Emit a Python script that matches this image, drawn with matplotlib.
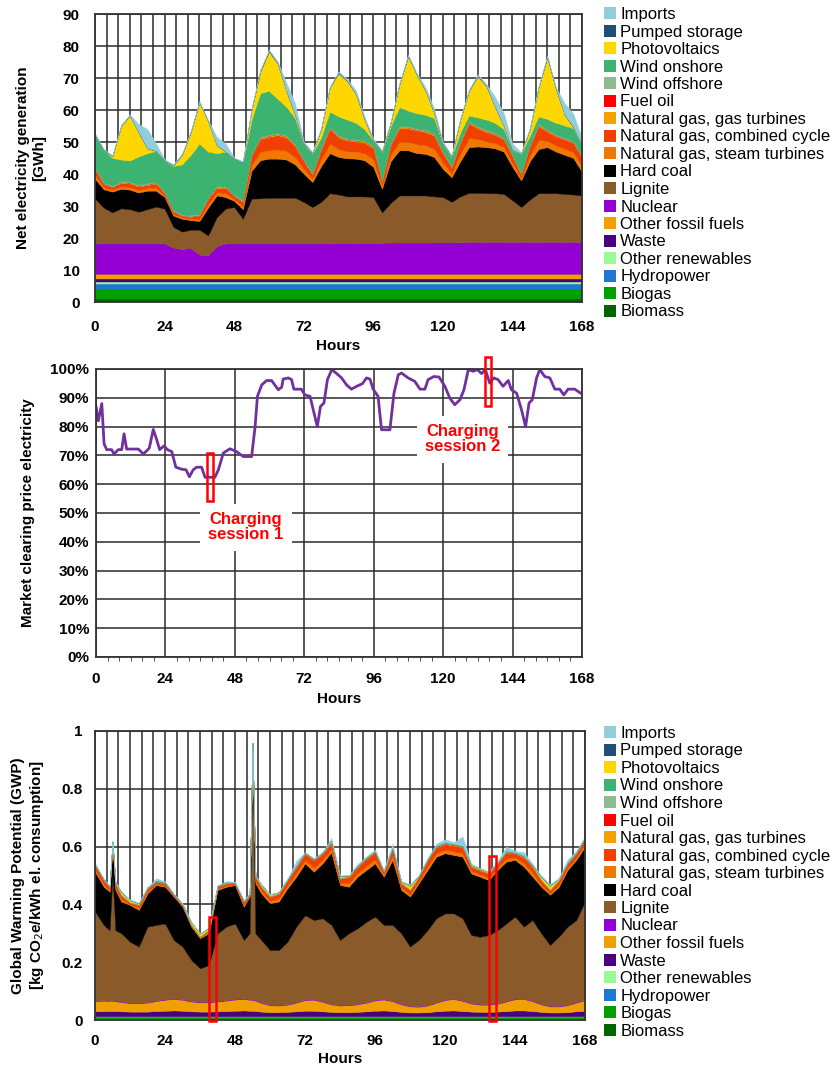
import numpy as np
import matplotlib.pyplot as plt
from matplotlib.patches import Patch, Rectangle
from matplotlib.ticker import MultipleLocator

plt.rcParams['font.family'] = ['Liberation Sans', 'DejaVu Sans']

# ---------------- generation mix [GWh], one value every 3 hours ----------------
hours_gen = np.arange(0, 169, 3)

biomass_gen = [0.8, 0.8, 0.8, 0.8, 0.8, 0.8, 0.8, 0.8, 0.8, 0.8, 0.8, 0.8, 0.8, 0.8, 0.8, 0.8, 0.8, 0.8, 0.8,
               0.8, 0.8, 0.8, 0.8, 0.8, 0.8, 0.8, 0.8, 0.8, 0.8, 0.8, 0.8, 0.8, 0.8, 0.8, 0.8, 0.8, 0.8, 0.8,
               0.8, 0.8, 0.8, 0.8, 0.8, 0.8, 0.8, 0.8, 0.8, 0.8, 0.8, 0.8, 0.8, 0.8, 0.8, 0.8, 0.8, 0.8, 0.8]
biogas_gen = [3.2, 3.2, 3.2, 3.2, 3.2, 3.2, 3.2, 3.2, 3.2, 3.2, 3.2, 3.2, 3.2, 3.2, 3.2, 3.2, 3.2, 3.2, 3.2,
              3.2, 3.2, 3.2, 3.2, 3.2, 3.2, 3.2, 3.2, 3.2, 3.2, 3.2, 3.2, 3.2, 3.2, 3.2, 3.2, 3.2, 3.2, 3.2,
              3.2, 3.2, 3.2, 3.2, 3.2, 3.2, 3.2, 3.2, 3.2, 3.2, 3.2, 3.2, 3.2, 3.2, 3.2, 3.2, 3.2, 3.2, 3.2]
hydro_gen = [1.6, 1.6, 1.6, 1.6, 1.6, 1.6, 1.6, 1.6, 1.6, 1.6, 1.6, 1.6, 1.6, 1.6, 1.6, 1.6, 1.6, 1.6, 1.6,
             1.6, 1.6, 1.6, 1.6, 1.6, 1.6, 1.6, 1.6, 1.6, 1.6, 1.6, 1.6, 1.6, 1.6, 1.6, 1.6, 1.6, 1.6, 1.6,
             1.6, 1.6, 1.6, 1.6, 1.6, 1.6, 1.6, 1.6, 1.6, 1.6, 1.6, 1.6, 1.6, 1.6, 1.6, 1.6, 1.6, 1.6, 1.6]
other_ren_gen = [0.5, 0.5, 0.5, 0.5, 0.5, 0.5, 0.5, 0.5, 0.5, 0.5, 0.5, 0.5, 0.5, 0.5, 0.5, 0.5, 0.5, 0.5, 0.5,
                 0.5, 0.5, 0.5, 0.5, 0.5, 0.5, 0.5, 0.5, 0.5, 0.5, 0.5, 0.5, 0.5, 0.5, 0.5, 0.5, 0.5, 0.5, 0.5,
                 0.5, 0.5, 0.5, 0.5, 0.5, 0.5, 0.5, 0.5, 0.5, 0.5, 0.5, 0.5, 0.5, 0.5, 0.5, 0.5, 0.5, 0.5, 0.5]
waste_gen = [1.0, 1.0, 1.0, 1.0, 1.0, 1.0, 1.0, 1.0, 1.0, 1.0, 1.0, 1.0, 1.0, 1.0, 1.0, 1.0, 1.0, 1.0, 1.0,
             1.0, 1.0, 1.0, 1.0, 1.0, 1.0, 1.0, 1.0, 1.0, 1.0, 1.0, 1.0, 1.0, 1.0, 1.0, 1.0, 1.0, 1.0, 1.0,
             1.0, 1.0, 1.0, 1.0, 1.0, 1.0, 1.0, 1.0, 1.0, 1.0, 1.0, 1.0, 1.0, 1.0, 1.0, 1.0, 1.0, 1.0, 1.0]
other_fossil_gen = [1.7, 1.7, 1.7, 1.7, 1.7, 1.7, 1.7, 1.7, 1.7, 1.7, 1.7, 1.7, 1.7, 1.7, 1.7, 1.7, 1.7, 1.7, 1.7,
                    1.7, 1.7, 1.7, 1.7, 1.7, 1.7, 1.7, 1.7, 1.7, 1.7, 1.7, 1.7, 1.7, 1.7, 1.7, 1.7, 1.7, 1.7, 1.7,
                    1.7, 1.7, 1.7, 1.7, 1.7, 1.7, 1.7, 1.7, 1.7, 1.7, 1.7, 1.7, 1.7, 1.7, 1.7, 1.7, 1.7, 1.7, 1.7]
nuclear_gen = [9.5, 9.5, 9.5, 9.5, 9.5, 9.5, 9.5, 9.5, 9.5, 8.2, 7.7, 8.2, 6.0, 5.8, 8.7, 9.5, 9.5, 9.5, 9.5,
               9.5, 9.5, 9.5, 9.5, 9.5, 9.5, 9.5, 9.5, 9.5, 9.7, 9.7, 9.7, 9.7, 9.7, 9.7, 9.8, 9.8, 9.8, 9.8,
               9.8, 9.8, 9.9, 9.9, 9.9, 10.0, 10.0, 10.0, 10.0, 10.0, 10.0, 10.0, 10.0, 10.0, 10.0, 10.0, 10.0, 10.0, 10.0]
lignite_gen = [14.0, 11.2, 9.7, 11.0, 10.7, 9.9, 10.7, 11.5, 10.9, 6.5, 5.5, 5.6, 7.8, 6.2, 9.0, 10.9, 11.4, 7.7, 14.0,
               14.1, 14.3, 14.3, 14.3, 14.3, 13.0, 11.4, 13.0, 15.7, 15.1, 14.5, 14.5, 14.5, 14.3, 9.5, 12.4, 14.7, 14.7, 14.7,
               14.7, 14.4, 14.1, 12.6, 14.3, 15.3, 15.3, 15.2, 15.2, 15.0, 13.0, 10.9, 13.2, 15.2, 15.2, 15.2, 15.0, 14.8, 14.5]
hard_coal_gen = [6.2, 5.7, 6.5, 6.1, 6.1, 6.0, 5.8, 5.0, 3.6, 3.5, 4.0, 3.0, 2.7, 8.7, 6.8, 3.6, 1.9, 3.0, 8.7,
                 11.9, 12.2, 12.2, 11.9, 10.4, 8.8, 7.8, 11.2, 12.5, 11.7, 11.9, 11.8, 11.3, 9.4, 7.4, 13.0, 14.1, 14.1, 13.2,
                 13.0, 12.3, 8.8, 7.7, 11.0, 14.3, 14.5, 14.4, 14.0, 13.2, 10.4, 8.3, 12.0, 13.8, 14.4, 13.0, 12.2, 11.4, 7.3]
gas_steam_gen = [1.2, 0.7, 0.6, 0.8, 0.8, 0.8, 0.8, 1.0, 0.5, 0.6, 0.4, 0.5, 0.7, 1.1, 1.0, 1.2, 0.6, 1.0, 1.9,
                 2.6, 2.7, 2.9, 2.8, 2.3, 1.6, 1.0, 2.1, 3.0, 2.5, 2.2, 2.2, 2.2, 2.4, 1.0, 2.1, 2.7, 2.7, 2.8,
                 2.7, 2.6, 2.0, 1.2, 2.3, 2.9, 2.3, 1.9, 1.7, 1.5, 1.3, 0.8, 1.9, 2.8, 2.0, 1.9, 1.9, 1.9, 1.8]
gas_cc_gen = [1.65, 0.95, 0.75, 1.05, 1.15, 1.05, 0.95, 1.25, 0.65, 0.75, 0.45, 0.55, 1.05, 1.65, 1.35, 1.65, 0.85, 1.25, 2.85,
              4.05, 4.15, 4.45, 4.15, 3.35, 2.25, 1.25, 3.05, 4.65, 3.65, 3.35, 3.15, 3.35, 3.55, 1.35, 3.05, 4.15, 4.15, 4.35,
              4.15, 4.05, 2.85, 1.75, 3.35, 4.55, 3.35, 2.85, 2.55, 2.25, 1.95, 0.95, 2.85, 4.35, 2.85, 2.85, 2.85, 2.85, 2.65]
gas_gt_gen = [0.2, 0.1, 0.1, 0.2, 0.2, 0.2, 0.2, 0.2, 0.1, 0.1, 0.1, 0.1, 0.1, 0.2, 0.2, 0.2, 0.1, 0.2, 0.2,
              0.3, 0.3, 0.3, 0.3, 0.3, 0.2, 0.2, 0.3, 0.3, 0.3, 0.3, 0.3, 0.3, 0.3, 0.2, 0.3, 0.3, 0.3, 0.3,
              0.3, 0.3, 0.3, 0.2, 0.3, 0.3, 0.3, 0.3, 0.2, 0.2, 0.2, 0.2, 0.2, 0.3, 0.3, 0.2, 0.2, 0.2, 0.2]
fuel_oil_gen = [0.05, 0.05, 0.05, 0.05, 0.05, 0.05, 0.05, 0.05, 0.05, 0.05, 0.05, 0.05, 0.05, 0.05, 0.05, 0.05, 0.05, 0.05, 0.05,
                0.05, 0.05, 0.05, 0.05, 0.05, 0.05, 0.05, 0.05, 0.05, 0.05, 0.05, 0.05, 0.05, 0.05, 0.05, 0.05, 0.05, 0.05, 0.05,
                0.05, 0.05, 0.05, 0.05, 0.05, 0.05, 0.05, 0.05, 0.05, 0.05, 0.05, 0.05, 0.05, 0.05, 0.05, 0.05, 0.05, 0.05, 0.05]
wind_off_gen = [0.3, 0.3, 0.3, 0.3, 0.3, 0.3, 0.3, 0.3, 0.3, 0.3, 0.3, 0.3, 0.3, 0.3, 0.3, 0.3, 0.3, 0.3, 0.3,
                0.3, 0.3, 0.3, 0.3, 0.3, 0.3, 0.3, 0.3, 0.3, 0.3, 0.3, 0.3, 0.3, 0.3, 0.3, 0.3, 0.3, 0.3, 0.3,
                0.3, 0.3, 0.3, 0.3, 0.3, 0.3, 0.3, 0.3, 0.3, 0.3, 0.3, 0.3, 0.3, 0.3, 0.3, 0.3, 0.3, 0.3, 0.3]
wind_on_gen = [10.4, 10.2, 8.7, 6.7, 6.6, 8.9, 9.4, 9.6, 9.8, 13.7, 15.7, 18.9, 22.0, 14.2, 10.3, 10.8, 11.3, 11.9, 10.7,
               13.7, 13.7, 10.7, 8.9, 8.2, 4.9, 6.0, 3.2, 4.7, 5.9, 5.9, 5.2, 3.5, 1.7, 8.5, 5.2, 6.0, 4.9, 4.7,
               4.7, 4.9, 2.3, 2.8, 2.7, 1.8, 2.8, 3.2, 3.2, 2.7, 1.4, 6.0, 2.7, 2.4, 3.3, 3.7, 3.9, 4.0, 3.3]
pv_gen = [0.0, 0.0, 0.5, 10.5, 14.1, 7.5, 1.5, 0.0, 0.0, 0.2, 3.0, 7.0, 12.9, 9.5, 2.5, 0.0, 0.0, 0.0, 3.0,
          6.7, 12.3, 11.0, 5.0, 1.0, 0.2, 0.2, 2.5, 7.5, 13.5, 12.0, 9.0, 3.0, 0.1, 0.2, 1.0, 7.1, 16.9, 12.0,
          7.5, 1.5, 0.2, 0.2, 4.0, 7.7, 12.8, 10.5, 5.0, 1.0, 0.1, 0.1, 2.0, 9.0, 19.2, 10.5, 3.3, 0.3, 0.1]
pumped_gen = [0.1, 0.1, 0.1, 0.1, 0.1, 0.1, 0.1, 0.1, 0.1, 0.1, 0.1, 0.1, 0.1, 0.1, 0.1, 0.1, 0.1, 0.1, 0.1,
              0.3, 0.3, 0.2, 0.1, 0.1, 0.1, 0.1, 0.1, 0.1, 0.3, 0.2, 0.1, 0.1, 0.1, 0.1, 0.1, 0.1, 0.3, 0.1,
              0.1, 0.1, 0.1, 0.1, 0.1, 0.1, 0.3, 0.1, 0.1, 0.1, 0.1, 0.1, 0.1, 0.1, 0.3, 0.1, 0.1, 0.1, 0.1]
imports_gen = [0.2, 0.2, 0.3, 0.3, 0.3, 2.5, 6.0, 2.3, 0.3, 0.3, 0.3, 0.3, 0.3, 0.3, 2.5, 2.5, 0.2, 0.2, 0.3,
               0.3, 0.3, 0.5, 2.5, 3.5, 0.4, 0.3, 0.3, 0.3, 0.3, 0.5, 1.0, 0.8, 0.4, 0.3, 0.3, 0.3, 0.3, 0.5,
               1.0, 1.3, 0.4, 0.3, 0.3, 0.3, 0.4, 0.5, 3.0, 4.0, 1.9, 0.2, 0.3, 0.3, 0.3, 0.5, 3.5, 4.2, 2.0]

# ---------------- market clearing price (relative, %) ----------------
hours_price = [0, 0.8, 2, 2.8, 3.7, 5.4, 6.2, 7.7, 8.9, 9.7, 10.6, 14.6, 16.4, 18.4, 19.8, 21, 22, 23.5, 24.7,
               26.2, 27.6, 29.6, 31.1, 32.3, 33.6, 34.8, 36.5, 37.7, 41.1, 42.3, 44, 46.3, 48.6, 50.9, 53.8,
               55, 55.8, 57.3, 59, 60.7, 63, 64.2, 64.7, 66.5, 67.6, 68.4, 71, 72.2, 74, 75.1, 76.5, 77.6,
               78.8, 80, 81.5, 83.2, 84.9, 86.6, 88.3, 90.1, 92.1, 93.5, 94.7, 95.8, 97.5, 98.7, 101.6, 103,
               104.5, 105.6, 107.9, 110.2, 112, 113.7, 114.8, 116.8, 118.6, 120.6, 122.3, 124, 125.8, 127.2,
               128.7, 130.4, 131.8, 133.3, 134.6, 136.1, 137.5, 139, 140.7, 142.5, 143.6, 145.4, 147.1, 148.5,
               149.7, 150.8, 152.3, 153.4, 155.1, 156.9, 158.6, 160.3, 161.7, 163.2, 165.5, 167.5, 168]
price = [87, 82, 88, 74, 72, 72, 70.5, 72, 72, 77.5, 72.2, 72.2, 70.5, 72.5, 79, 75.4, 72, 73.3, 72,
         71.3, 65.9, 65.2, 65, 62.6, 65, 65.9, 65.9, 62.4, 62.4, 65, 70.8, 72.3, 71.3, 69.6, 69.6,
         80, 90.5, 94.5, 96, 96, 92.8, 93.7, 96.5, 96.9, 96.3, 93, 93, 91, 90.5, 85.8, 80, 87,
         88.2, 96.3, 99.8, 98.4, 96.9, 94.5, 93, 94, 94.9, 96.9, 96.5, 93, 90.5, 78.9, 78.9, 91.6,
         98, 98.6, 96.9, 95.7, 93, 93, 96.3, 97.4, 97.2, 94, 89.9, 87.6, 89.3, 92.8,
         99.8, 99.2, 99.8, 98.4, 99.8, 95.1, 96.9, 96.3, 94, 96, 92.8, 91.6, 85.8, 80,
         88.2, 89.3, 96.9, 99.8, 97.4, 96.9, 93, 93, 91, 93, 93, 91.6, 91.5]

# charging sessions (start hour, end hour)
sessions = [(39, 41), (135, 137)]
session_labels = ['Charging\nsession 1', 'Charging\nsession 2']

# ---------------- GWP [kg CO2e/kWh], irregular hours ----------------
hours_gwp = [0, 3, 5, 6, 7, 9, 12, 15, 18, 21, 24, 27, 30, 33, 36, 39, 42, 45, 48, 51, 53, 54, 55, 57, 60,
             63, 66, 69, 72, 75, 78, 81, 84, 87, 90, 93, 96, 99, 102, 105, 108, 111, 114, 117, 120, 123,
             126, 129, 132, 135, 138, 141, 144, 147, 150, 153, 156, 159, 162, 165, 168]

biomass_gwp = [0.004, 0.004, 0.004, 0.004, 0.004, 0.004, 0.004, 0.004, 0.004, 0.004, 0.004, 0.004, 0.004, 0.004, 0.004, 0.004, 0.004, 0.004, 0.004, 0.004,
               0.004, 0.004, 0.004, 0.004, 0.004, 0.004, 0.004, 0.004, 0.004, 0.004, 0.004, 0.004, 0.004, 0.004, 0.004, 0.004, 0.004, 0.004, 0.004, 0.004,
               0.004, 0.004, 0.004, 0.004, 0.004, 0.004, 0.004, 0.004, 0.004, 0.004, 0.004, 0.004, 0.004, 0.004, 0.004, 0.004, 0.004, 0.004, 0.004, 0.004, 0.004]
biogas_gwp = [0.007, 0.007, 0.007, 0.007, 0.007, 0.007, 0.007, 0.007, 0.007, 0.007, 0.007, 0.007, 0.007, 0.007, 0.007, 0.007, 0.007, 0.007, 0.007, 0.007,
              0.007, 0.007, 0.007, 0.007, 0.007, 0.007, 0.007, 0.007, 0.007, 0.007, 0.007, 0.007, 0.007, 0.007, 0.007, 0.007, 0.007, 0.007, 0.007, 0.007,
              0.007, 0.007, 0.007, 0.007, 0.007, 0.007, 0.007, 0.007, 0.007, 0.007, 0.007, 0.007, 0.007, 0.007, 0.007, 0.007, 0.007, 0.007, 0.007, 0.007, 0.007]
hydro_gwp = [0.001, 0.001, 0.001, 0.001, 0.001, 0.001, 0.001, 0.001, 0.001, 0.001, 0.001, 0.001, 0.001, 0.001, 0.001, 0.001, 0.001, 0.001, 0.001, 0.001,
             0.001, 0.001, 0.001, 0.001, 0.001, 0.001, 0.001, 0.001, 0.001, 0.001, 0.001, 0.001, 0.001, 0.001, 0.001, 0.001, 0.001, 0.001, 0.001, 0.001,
             0.001, 0.001, 0.001, 0.001, 0.001, 0.001, 0.001, 0.001, 0.001, 0.001, 0.001, 0.001, 0.001, 0.001, 0.001, 0.001, 0.001, 0.001, 0.001, 0.001, 0.001]
other_ren_gwp = [0.001, 0.001, 0.001, 0.001, 0.001, 0.001, 0.001, 0.001, 0.001, 0.001, 0.001, 0.001, 0.001, 0.001, 0.001, 0.001, 0.001, 0.001, 0.001, 0.001,
                 0.001, 0.001, 0.001, 0.001, 0.001, 0.001, 0.001, 0.001, 0.001, 0.001, 0.001, 0.001, 0.001, 0.001, 0.001, 0.001, 0.001, 0.001, 0.001, 0.001,
                 0.001, 0.001, 0.001, 0.001, 0.001, 0.001, 0.001, 0.001, 0.001, 0.001, 0.001, 0.001, 0.001, 0.001, 0.001, 0.001, 0.001, 0.001, 0.001, 0.001, 0.001]
waste_gwp = [0.017, 0.018, 0.018, 0.018, 0.018, 0.017, 0.016, 0.016, 0.016, 0.018, 0.019, 0.020, 0.019, 0.017, 0.016, 0.016, 0.017, 0.018, 0.019, 0.020,
             0.019, 0.019, 0.018, 0.016, 0.014, 0.014, 0.015, 0.017, 0.019, 0.019, 0.017, 0.015, 0.014, 0.014, 0.015, 0.017, 0.019, 0.020, 0.018, 0.015,
             0.013, 0.013, 0.014, 0.017, 0.019, 0.020, 0.018, 0.016, 0.015, 0.015, 0.016, 0.018, 0.020, 0.020, 0.018, 0.015, 0.013, 0.013, 0.014, 0.017, 0.019]
other_fossil_gwp = [0.035, 0.036, 0.035, 0.035, 0.034, 0.032, 0.029, 0.029, 0.031, 0.035, 0.038, 0.040, 0.038, 0.034, 0.032, 0.032, 0.034, 0.036, 0.039, 0.040,
                    0.038, 0.037, 0.036, 0.030, 0.024, 0.023, 0.025, 0.030, 0.037, 0.038, 0.033, 0.026, 0.023, 0.024, 0.026, 0.030, 0.036, 0.038, 0.034, 0.026,
                    0.021, 0.020, 0.023, 0.030, 0.037, 0.040, 0.035, 0.028, 0.025, 0.025, 0.027, 0.033, 0.039, 0.040, 0.034, 0.026, 0.021, 0.021, 0.024, 0.030, 0.037]
nuclear_gwp = [0.002, 0.002, 0.002, 0.002, 0.002, 0.002, 0.002, 0.002, 0.002, 0.002, 0.002, 0.002, 0.002, 0.002, 0.002, 0.002, 0.002, 0.002, 0.002, 0.002,
               0.002, 0.002, 0.002, 0.002, 0.002, 0.002, 0.002, 0.002, 0.002, 0.002, 0.002, 0.002, 0.002, 0.002, 0.002, 0.002, 0.002, 0.002, 0.002, 0.002,
               0.002, 0.002, 0.002, 0.002, 0.002, 0.002, 0.002, 0.002, 0.002, 0.002, 0.002, 0.002, 0.002, 0.002, 0.002, 0.002, 0.002, 0.002, 0.002, 0.002, 0.002]
lignite_gwp = [0.308, 0.260, 0.243, 0.432, 0.244, 0.236, 0.211, 0.194, 0.261, 0.261, 0.262, 0.202, 0.182, 0.142, 0.116, 0.127, 0.234, 0.254, 0.261, 0.202,
               0.228, 0.859, 0.231, 0.216, 0.189, 0.190, 0.216, 0.261, 0.292, 0.274, 0.287, 0.274, 0.225, 0.247, 0.261, 0.278, 0.288, 0.256, 0.262, 0.244,
               0.205, 0.229, 0.259, 0.290, 0.298, 0.294, 0.284, 0.235, 0.233, 0.239, 0.253, 0.268, 0.284, 0.248, 0.279, 0.244, 0.211, 0.239, 0.270, 0.284, 0.339]
hard_coal_gwp = [0.138, 0.132, 0.133, 0.100, 0.139, 0.110, 0.127, 0.127, 0.115, 0.138, 0.127, 0.150, 0.138, 0.115, 0.104, 0.110, 0.150, 0.138, 0.133, 0.115,
                 0.127, 0.025, 0.173, 0.161, 0.162, 0.168, 0.185, 0.173, 0.179, 0.167, 0.190, 0.250, 0.190, 0.161, 0.179, 0.179, 0.184, 0.167, 0.225, 0.150,
                 0.173, 0.196, 0.208, 0.213, 0.208, 0.202, 0.213, 0.213, 0.208, 0.190, 0.208, 0.214, 0.196, 0.208, 0.150, 0.161, 0.173, 0.173, 0.196, 0.208, 0.190]
gas_steam_gwp = [0.008, 0.008, 0.006, 0.005, 0.008, 0.008, 0.003, 0.006, 0.006, 0.004, 0.004, 0.002, 0.002, 0.002, 0.002, 0.004, 0.004, 0.004, 0.002, 0.006,
                 0.002, 0.001, 0.008, 0.008, 0.008, 0.010, 0.010, 0.012, 0.012, 0.014, 0.012, 0.012, 0.008, 0.012, 0.012, 0.014, 0.014, 0.006, 0.014, 0.008,
                 0.008, 0.008, 0.012, 0.012, 0.012, 0.012, 0.012, 0.008, 0.008, 0.008, 0.008, 0.012, 0.008, 0.012, 0.012, 0.008, 0.006, 0.008, 0.008, 0.008, 0.010]
gas_cc_gwp = [0.014, 0.014, 0.010, 0.009, 0.014, 0.013, 0.005, 0.010, 0.011, 0.007, 0.007, 0.004, 0.004, 0.004, 0.003, 0.007, 0.007, 0.007, 0.004, 0.011,
              0.004, 0.001, 0.014, 0.014, 0.014, 0.017, 0.017, 0.021, 0.021, 0.025, 0.021, 0.021, 0.014, 0.021, 0.021, 0.024, 0.024, 0.010, 0.024, 0.014,
              0.014, 0.014, 0.021, 0.021, 0.020, 0.021, 0.021, 0.015, 0.014, 0.014, 0.014, 0.020, 0.014, 0.020, 0.021, 0.014, 0.010, 0.014, 0.014, 0.014, 0.017]
gas_gt_gwp = [0.001, 0.001, 0.001, 0.001, 0.001, 0.001, 0.000, 0.001, 0.001, 0.001, 0.001, 0.000, 0.000, 0.000, 0.000, 0.000, 0.000, 0.001, 0.000, 0.001,
              0.000, 0.000, 0.001, 0.001, 0.001, 0.001, 0.001, 0.002, 0.002, 0.002, 0.002, 0.002, 0.001, 0.002, 0.002, 0.002, 0.002, 0.001, 0.002, 0.001,
              0.001, 0.001, 0.002, 0.002, 0.002, 0.002, 0.002, 0.001, 0.001, 0.001, 0.001, 0.002, 0.001, 0.002, 0.002, 0.001, 0.001, 0.001, 0.001, 0.001, 0.002]
fuel_oil_gwp = [0.0005, 0.0005, 0.0005, 0.0005, 0.0005, 0.0005, 0.0005, 0.0005, 0.0005, 0.0005, 0.0005, 0.0005, 0.0005, 0.0005, 0.0005, 0.0005, 0.0005, 0.0005, 0.0005, 0.0005,
                0.0005, 0.0005, 0.0005, 0.0005, 0.0005, 0.0005, 0.0005, 0.0005, 0.0005, 0.0005, 0.0005, 0.0005, 0.0005, 0.0005, 0.0005, 0.0005, 0.0005, 0.0005, 0.0005, 0.0005,
                0.0005, 0.0005, 0.0005, 0.0005, 0.0005, 0.0005, 0.0005, 0.0005, 0.0005, 0.0005, 0.0005, 0.0005, 0.0005, 0.0005, 0.0005, 0.0005, 0.0005, 0.0005, 0.0005, 0.0005, 0.0005]
wind_off_gwp = [0.0003, 0.0003, 0.0003, 0.0003, 0.0003, 0.0003, 0.0003, 0.0003, 0.0003, 0.0003, 0.0003, 0.0003, 0.0003, 0.0003, 0.0003, 0.0003, 0.0003, 0.0003, 0.0003, 0.0003,
                0.0003, 0.0003, 0.0003, 0.0003, 0.0003, 0.0003, 0.0003, 0.0003, 0.0003, 0.0003, 0.0003, 0.0003, 0.0003, 0.0003, 0.0003, 0.0003, 0.0003, 0.0003, 0.0003, 0.0003,
                0.0003, 0.0003, 0.0003, 0.0003, 0.0003, 0.0003, 0.0003, 0.0003, 0.0003, 0.0003, 0.0003, 0.0003, 0.0003, 0.0003, 0.0003, 0.0003, 0.0003, 0.0003, 0.0003, 0.0003, 0.0003]
wind_on_gwp = [0.002, 0.002, 0.002, 0.002, 0.002, 0.002, 0.002, 0.002, 0.002, 0.002, 0.002, 0.002, 0.002, 0.002, 0.002, 0.002, 0.002, 0.002, 0.002, 0.002,
               0.002, 0.002, 0.002, 0.002, 0.002, 0.002, 0.002, 0.002, 0.002, 0.002, 0.002, 0.002, 0.002, 0.002, 0.002, 0.002, 0.002, 0.002, 0.002, 0.002,
               0.002, 0.002, 0.002, 0.002, 0.002, 0.002, 0.002, 0.002, 0.002, 0.002, 0.002, 0.002, 0.002, 0.002, 0.002, 0.002, 0.002, 0.002, 0.002, 0.002, 0.002]
pv_gwp = [0.0, 0.0, 0.0, 0.0, 0.001, 0.008, 0.006, 0.003, 0.0, 0.0, 0.0, 0.0, 0.001, 0.006, 0.008, 0.005, 0.001, 0.0, 0.0, 0.0,
          0.0, 0.0, 0.0, 0.005, 0.005, 0.001, 0.0, 0.0, 0.0, 0.0, 0.0, 0.004, 0.006, 0.001, 0.0, 0.0, 0.0, 0.0, 0.0, 0.003,
          0.012, 0.001, 0.0, 0.0, 0.0, 0.0, 0.0, 0.003, 0.003, 0.002, 0.0, 0.0, 0.0, 0.0, 0.002, 0.008, 0.012, 0.003, 0.0, 0.0, 0.0]
pumped_gwp = [0.0005, 0.0005, 0.0005, 0.0005, 0.0005, 0.0005, 0.0005, 0.0005, 0.0005, 0.0005, 0.0005, 0.0005, 0.0005, 0.0005, 0.0005, 0.0005, 0.0005, 0.0005, 0.0005, 0.0005,
              0.0005, 0.0005, 0.0005, 0.0005, 0.0005, 0.0005, 0.0005, 0.0005, 0.0005, 0.0005, 0.0005, 0.0005, 0.0005, 0.0005, 0.0005, 0.0005, 0.0005, 0.0005, 0.0005, 0.0005,
              0.0005, 0.0005, 0.0005, 0.0005, 0.0005, 0.0005, 0.0005, 0.0005, 0.0005, 0.0005, 0.0005, 0.0005, 0.0005, 0.0005, 0.0005, 0.0005, 0.0005, 0.0005, 0.0005, 0.0005, 0.0005]
imports_gwp = [0.003, 0.0005, 0.001, 0.002, 0.001, 0.002, 0.002, 0.002, 0.001, 0.008, 0.004, 0.001, 0.001, 0.002, 0.001, 0.001, 0.0005, 0.004, 0.002, 0.002,
               0.001, 0.0, 0.001, 0.001, 0.0, 0.0, 0.003, 0.016, 0.0, 0.003, 0.0, 0.008, 0.001, 0.0, 0.006, 0.003, 0.005, 0.004, 0.013, 0.001,
               0.005, 0.0, 0.003, 0.007, 0.011, 0.006, 0.032, 0.003, 0.0, 0.0, 0.005, 0.015, 0.005, 0.012, 0.004, 0.005, 0.005, 0.0, 0.010, 0.005, 0.003]

# stacking order bottom -> top
source_names = ['Biomass', 'Biogas', 'Hydropower', 'Other renewables', 'Waste', 'Other fossil fuels',
                'Nuclear', 'Lignite', 'Hard coal', 'Natural gas, steam turbines',
                'Natural gas, combined cycle', 'Natural gas, gas turbines', 'Fuel oil',
                'Wind offshore', 'Wind onshore', 'Photovoltaics', 'Pumped storage', 'Imports']
source_colors = ['#006400', '#00A000', '#1E78D2', '#98FB98', '#4B0082', '#F0A000',
                 '#9400D3', '#8B5A2B', '#000000', '#F07800',
                 '#F04000', '#F4A000', '#FF0000',
                 '#8FBC8F', '#3CB371', '#FFD700', '#1F4E79', '#92CDDC']

gen_series = [biomass_gen, biogas_gen, hydro_gen, other_ren_gen, waste_gen, other_fossil_gen,
              nuclear_gen, lignite_gen, hard_coal_gen, gas_steam_gen, gas_cc_gen, gas_gt_gen,
              fuel_oil_gen, wind_off_gen, wind_on_gen, pv_gen, pumped_gen, imports_gen]
gwp_series = [biomass_gwp, biogas_gwp, hydro_gwp, other_ren_gwp, waste_gwp, other_fossil_gwp,
              nuclear_gwp, lignite_gwp, hard_coal_gwp, gas_steam_gwp, gas_cc_gwp, gas_gt_gwp,
              fuel_oil_gwp, wind_off_gwp, wind_on_gwp, pv_gwp, pumped_gwp, imports_gwp]

W, H = 836, 1070
fig = plt.figure(figsize=(W / 100, H / 100), dpi=100)


def px_axes(left, top, right, bottom):
    return fig.add_axes([left / W, 1 - bottom / H, (right - left) / W, (bottom - top) / H])


def style(ax, ypad, xpad):
    ax.set_xlim(0, 168)
    ax.set_xticks(range(0, 169, 24))
    ax.set_axisbelow(True)
    ax.tick_params(axis='both', which='both', length=0, labelsize=11)
    ax.tick_params(axis='y', pad=ypad)
    ax.tick_params(axis='x', pad=xpad)
    for lbl in ax.get_xticklabels() + ax.get_yticklabels():
        lbl.set_fontweight('bold')
    for sp in ax.spines.values():
        sp.set_color('#333333')
        sp.set_linewidth(1.3)
    ax.set_xlabel('Hours', fontsize=11, fontweight='bold')


grid_kw = dict(color='#2a2a2a', linewidth=1.1)

# ---------------- top: generation ----------------
ax1 = px_axes(95, 14, 582, 302)
ax1.stackplot(hours_gen, *gen_series, colors=source_colors, linewidth=0.3, edgecolor='face')
ax1.set_ylim(0, 90)
ax1.set_yticks(range(0, 91, 10))
ax1.xaxis.set_minor_locator(MultipleLocator(4))
ax1.grid(which='both', axis='x', **grid_kw)
ax1.grid(which='major', axis='y', **grid_kw)
style(ax1, 11, 13)
ax1.set_ylabel('Net electricity generation\n[GWh]', fontsize=11, fontweight='bold')
ax1.yaxis.set_label_coords(-0.1, 0.5)
ax1.xaxis.set_label_coords(0.5, -0.13)

# ---------------- middle: price ----------------
ax2 = px_axes(96, 369, 582, 657)
ax2.plot(hours_price, price, color='#7030A0', linewidth=2)
ax2.set_ylim(0, 100)
ax2.set_yticks(range(0, 101, 10))
ax2.set_yticklabels([f'{v}%' for v in range(0, 101, 10)])
ax2.xaxis.set_minor_locator(MultipleLocator(4))
ax2.grid(which='major', **grid_kw)
style(ax2, 5, 11)
ax2.tick_params(axis='x', which='minor', length=3, direction='out', color='#333333')
ax2.set_ylabel('Market clearing price electricity', fontsize=11, fontweight='bold')
ax2.yaxis.set_label_coords(-0.125, 0.5)
ax2.xaxis.set_label_coords(0.5, -0.12)

price_boxes = [(54, 71), (87, 104)]
label_pos = [(51.7, 45), (126.7, 75.6)]
for (h0, h1), (y0, y1), (tx, ty), txt in zip(sessions, price_boxes, label_pos, session_labels):
    ax2.add_patch(Rectangle((h0 - 0.5, y0), h1 - h0, y1 - y0, fill=False, edgecolor='red',
                            linewidth=1.8, clip_on=False, zorder=5))
    ax2.text(tx, ty, txt, color='red', fontsize=12, fontweight='bold', ha='center', va='center',
             linespacing=1.0, zorder=6,
             bbox=dict(facecolor='white', edgecolor='none', pad=6))

# ---------------- bottom: GWP ----------------
ax3 = px_axes(95, 731, 585, 1020)
ax3.stackplot(hours_gwp, *gwp_series, colors=source_colors, linewidth=0.3, edgecolor='face')
ax3.set_ylim(0, 1)
ax3.set_yticks([0, 0.2, 0.4, 0.6, 0.8, 1.0])
ax3.set_yticklabels(['0', '0.2', '0.4', '0.6', '0.8', '1'])
ax3.xaxis.set_minor_locator(MultipleLocator(4))
ax3.grid(which='both', axis='x', **grid_kw)
ax3.grid(which='major', axis='y', **grid_kw)
style(ax3, 9, 10)
ax3.set_ylabel('Global Warming Potential (GWP)\n[kg CO$_2$e/kWh el. consumption]',
               fontsize=11, fontweight='bold')
ax3.yaxis.set_label_coords(-0.1, 0.5)
ax3.xaxis.set_label_coords(0.5, -0.11)

gwp_boxes = [(-0.005, 0.355), (-0.005, 0.567)]
for (h0, h1), (y0, y1) in zip(sessions, gwp_boxes):
    ax3.add_patch(Rectangle((h0 + 0.1, y0), h1 - h0 + 0.3, y1 - y0, fill=False, edgecolor='red',
                            linewidth=1.8, clip_on=False, zorder=5))

# ---------------- legends ----------------
handles = [Patch(facecolor=c, edgecolor='none') for c in source_colors][::-1]
labels = source_names[::-1]
leg_kw = dict(loc='upper left', frameon=False, fontsize=12, handlelength=0.72, handleheight=0.72,
              handletextpad=0.25, labelspacing=0.15, borderpad=0, borderaxespad=0)
fig.legend(handles, labels, bbox_to_anchor=(604 / W, 1 - 7 / H), **leg_kw)
fig.legend(handles, labels, bbox_to_anchor=(604 / W, 1 - 726 / H), **leg_kw)

fig.savefig('out.png', dpi=100)
